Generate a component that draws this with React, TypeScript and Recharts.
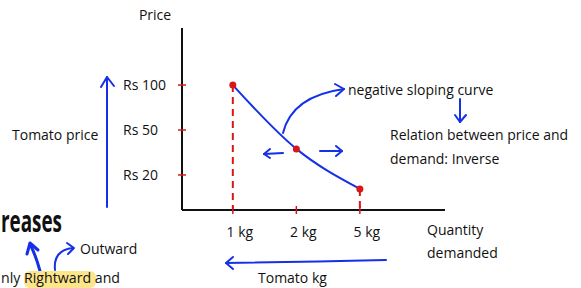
import React from "react"
import { LineChart, Line, XAxis, YAxis, ReferenceLine } from "recharts"

// Courbe de demande de tomates (croquis fait main)

const quantityLabels = ["1 kg", "2 kg", "5 kg"]
const quantitySlots = [1, 2, 3]
const priceLabels = ["Rs 20", "Rs 50", "Rs 100"]
const priceSlots = [1, 2, 3]
// hauteur de chaque point sur l'échelle des prix, telle que dessinée
const curveLevels = [3, 1.58, 0.69]

const data = quantitySlots.map((q, i) => ({ q, level: curveLevels[i] }))

const BLUE = "#1530e6"
const RED = "#d81818"
const INK = "#111"
const FONT = "'Open Sans', sans-serif"

function PriceTick(props: any) {
  const { x, y, payload } = props
  const label = priceLabels[priceSlots.indexOf(payload.value)]
  return (
    <g>
      <line x1={x - 4} x2={x + 4} y1={y} y2={y} stroke={RED} strokeWidth={1.5} />
      <text x={x - 59} y={y} dy={5} textAnchor="start" fontSize={14} fill={INK} fontFamily={FONT}>
        {label}
      </text>
    </g>
  )
}

function QuantityTick(props: any) {
  const { x, y, payload } = props
  const label = quantityLabels[quantitySlots.indexOf(payload.value)]
  return (
    <g>
      <line x1={x} x2={x} y1={y - 4} y2={y + 4} stroke={RED} strokeWidth={1.5} />
      <text x={x + 7} y={y} dy={27} textAnchor="middle" fontSize={14} fill={INK} fontFamily={FONT}>
        {label}
      </text>
    </g>
  )
}

function Annotations() {
  const t = { fontFamily: FONT, fontSize: 14, fill: INK }
  const arrow = { stroke: BLUE, strokeWidth: 2, fill: "none", strokeLinecap: "round" as const, strokeLinejoin: "round" as const }
  return (
    <svg width={581} height={288} style={{ position: "absolute", left: 0, top: 0, pointerEvents: "none" }}>
      <text {...t} x={155} y={20} textAnchor="middle">Price</text>
      <text {...t} x={12} y={140}>Tomato price</text>

      {/* flèche verticale prix */}
      <path {...arrow} d="M107,207 L107,77" />
      <path {...arrow} d="M101,87 L107,77 L114,86" />

      {/* annotations de la courbe */}
      <path {...arrow} d="M283,133 Q292,96 344,89" />
      <path {...arrow} d="M335,84 L344,89 L336,96" />
      <text {...t} x={348} y={95}>negative sloping curve</text>
      <path {...arrow} d="M460,99 L460,122" />
      <path {...arrow} d="M455,115 L460,122 L466,115" />
      <text {...t} x={390} y={140}>Relation between price and</text>
      <text {...t} x={390} y={164}>demand: Inverse</text>

      <path {...arrow} d="M283,153 L264,154" />
      <path {...arrow} d="M270,149 L264,154 L270,158" />
      <path {...arrow} d="M320,151 L342,151" />
      <path {...arrow} d="M336,146 L342,151 L336,156" />

      <text {...t} x={427} y={235}>Quantity</text>
      <text {...t} x={427} y={258}>demanded</text>

      {/* flèche quantité */}
      <path {...arrow} d="M386,260 Q300,262 226,263" />
      <path {...arrow} d="M233,257 L226,263 L233,269" />
      <text {...t} x={258} y={283}>Tomato kg</text>

      {/* notes en bas à gauche */}
      <text x={1} y={232} textLength={61} lengthAdjust="spacingAndGlyphs" fontFamily={FONT} fontSize={31} fontWeight={700} fill={INK}>reases</text>
      <path {...arrow} strokeWidth={3} d="M40,271 Q36,256 30,244" />
      <path {...arrow} strokeWidth={3} d="M27,254 L30,243 L38,250" />
      <path {...arrow} d="M55,270 Q53,250 73,248" />
      <path {...arrow} d="M67,243 L74,248 L68,254" />
      <text {...t} x={80} y={254}>Outward</text>
      <rect x={24} y={271} width={72} height={17} rx={6} fill="#fde58a" />
      <text {...t} x={1} y={283} textLength={119} lengthAdjust="spacingAndGlyphs">nly Rightward and</text>
    </svg>
  )
}

export default function App() {
  return (
    <div style={{ position: "fixed", left: 0, top: 0, width: 581, height: 288, background: "#fff", overflow: "hidden" }}>
      <LineChart width={581} height={288} data={data} margin={{ top: 28, right: 136, left: 122, bottom: 48 }}>
        <XAxis
          dataKey="q"
          type="number"
          domain={[0.2, 4.34]}
          ticks={quantitySlots}
          height={30}
          tickSize={0}
          tickMargin={0}
          tick={<QuantityTick />}
          axisLine={{ stroke: INK, strokeWidth: 2 }}
          allowDataOverflow
        />
        <YAxis
          type="number"
          domain={[0.22, 4.27]}
          ticks={priceSlots}
          width={60}
          tickSize={0}
          tickMargin={0}
          tick={<PriceTick />}
          axisLine={{ stroke: INK, strokeWidth: 2 }}
          allowDataOverflow
        />
        <ReferenceLine
          segment={[{ x: quantitySlots[0], y: curveLevels[0] }, { x: quantitySlots[0], y: 0.22 }]}
          stroke={RED}
          strokeWidth={2}
          strokeDasharray="7 5"
          ifOverflow="visible"
        />
        <ReferenceLine
          segment={[{ x: quantitySlots[2], y: curveLevels[2] }, { x: quantitySlots[2], y: 0.22 }]}
          stroke={RED}
          strokeWidth={2}
          strokeDasharray="7 5"
          ifOverflow="visible"
        />
        <Line
          type="monotone"
          dataKey="level"
          stroke={BLUE}
          strokeWidth={2}
          dot={{ r: 3.5, fill: RED, stroke: "none" }}
          isAnimationActive={false}
        />
      </LineChart>
      <Annotations />
    </div>
  )
}
